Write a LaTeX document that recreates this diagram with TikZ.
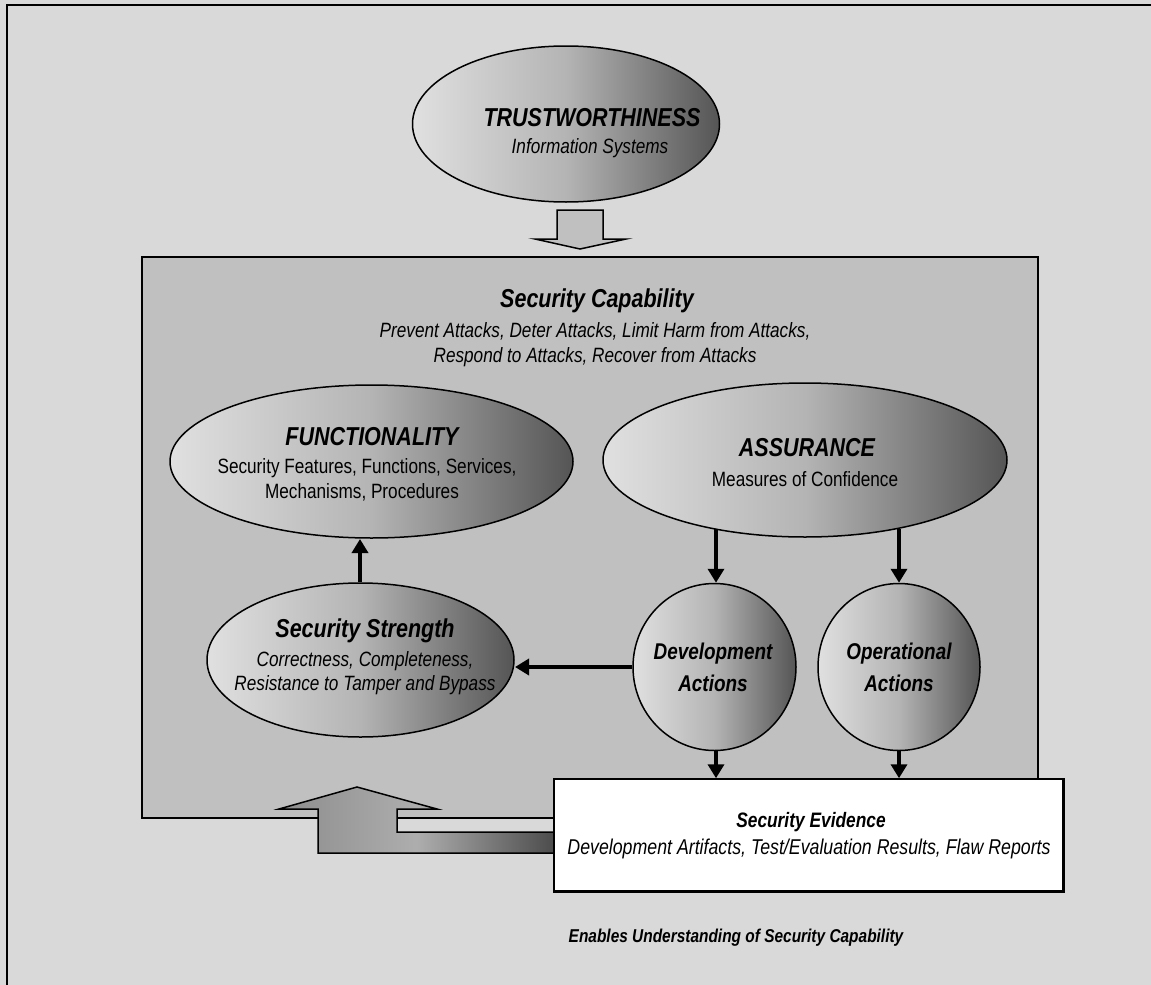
\documentclass[tikz,border=0pt]{standalone}
\usepackage{fontspec}
\setmainfont{Liberation Sans}[FakeStretch=0.83]
\usetikzlibrary{shapes.geometric,arrows.meta}
\definecolor{bg}{HTML}{D9D9D9}
\definecolor{capbox}{HTML}{C0C0C0}
\definecolor{glight}{HTML}{E0E0E0}
\definecolor{gmid}{HTML}{B4B4B4}
\definecolor{gdark}{HTML}{555555}
\definecolor{arrowfill}{HTML}{C0C0C0}
\begin{document}
\begin{tikzpicture}[x=1pt,y=-1pt,
  shadedell/.style={ellipse, draw=black, line width=1.5pt, left color=glight, right color=gdark, middle color=gmid, inner sep=0pt},
  ttl/.style={font=\fontsize{25.9}{30}\selectfont\bfseries\itshape, anchor=base, inner sep=0pt},
  midttl/.style={font=\fontsize{22.8}{26}\selectfont\bfseries\itshape, anchor=base, inner sep=0pt},
  sub/.style={font=\fontsize{20.7}{24}\selectfont\itshape, anchor=base, inner sep=0pt},
  reg/.style={font=\fontsize{20.7}{24}\selectfont, anchor=base, inner sep=0pt},
  thickarrow/.style={line width=4pt, -{Triangle[width=16pt,length=14pt]}},
]
\useasboundingbox (0,0) rectangle (1151,985);
% background and frame
\fill[bg] (0,0) rectangle (1151,985);
\draw[line width=2pt] (7,1000) -- (7,5) -- (1170,5);

% trustworthiness
\node[shadedell, minimum width=307pt, minimum height=156pt] (trust) at (566,124) {};
\node[ttl] (trustT) at (592,126) {TRUSTWORTHINESS};
\node[sub] (trustS) at (590,153) {Information Systems};

% down block arrow
\draw[fill=arrowfill, line width=1.5pt, line join=miter]
  (557,210) -- (603,210) -- (603,239) -- (626,239) -- (580,249) -- (535,239) -- (557,239) -- cycle;

% security capability box
\node[draw=black, line width=1.5pt, fill=capbox, minimum width=896pt, minimum height=561pt, inner sep=0pt] (cap) at (590,537.5) {};
\node[ttl] (capT) at (597,307) {Security Capability};
\node[sub] (capS1) at (595,337) {Prevent Attacks, Deter Attacks, Limit Harm from Attacks,};
\node[sub] (capS2) at (595,362) {Respond to Attacks, Recover from Attacks};

% functionality
\node[shadedell, minimum width=403pt, minimum height=153pt] (func) at (371.5,461.5) {};
\node[ttl] (funcT) at (372,445) {FUNCTIONALITY};
\node[reg] (funcS1) at (367,473) {Security Features, Functions, Services,};
\node[reg] (funcS2) at (362,498) {Mechanisms, Procedures};

% assurance
\node[shadedell, minimum width=404pt, minimum height=154pt] (assur) at (805,460) {};
\node[ttl] (assurT) at (807,456) {ASSURANCE};
\node[reg] (assurS) at (805,486) {Measures of Confidence};

% security strength
\node[shadedell, minimum width=307pt, minimum height=154pt] (strength) at (360.5,660) {};
\node[ttl] (strT) at (365,637) {Security Strength};
\node[sub] (strS1) at (365,666) {Correctness, Completeness,};
\node[sub] (strS2) at (365,690) {Resistance to Tamper and Bypass};

% development / operational
\node[shadedell, minimum width=163pt, minimum height=167pt] (dev) at (714.5,667) {};
\node[midttl] (devT1) at (713,659) {Development};
\node[midttl] (devT2) at (713,691) {Actions};
\node[shadedell, minimum width=162pt, minimum height=167pt] (op) at (899,667) {};
\node[midttl] (opT1) at (899,659) {Operational};
\node[midttl] (opT2) at (899,691) {Actions};

% evidence box
\node[draw=black, line width=1.5pt, fill=white, minimum width=509pt, minimum height=112pt, inner sep=0pt] (evid) at (808.5,835) {};
\node[midttl, font=\fontsize{20.9}{25}\selectfont\bfseries\itshape] (evT) at (811,827) {Security Evidence};
\node[sub, font=\fontsize{21.4}{25}\selectfont\itshape] (evS) at (809,854) {Development Artifacts, Test/Evaluation Results, Flaw Reports};

% thick arrows
\coordinate (a1) at (716,529);
\coordinate (a2) at (899,529);
\coordinate (a3) at (360,539);
\coordinate (s1) at (515,667);
\draw[thickarrow] (a1) -- (a1 |- dev.north);
\draw[thickarrow] (a2) -- (a2 |- op.north);
\draw[thickarrow] (a3 |- strength.north) -- (a3);
\draw[thickarrow] (dev.west) -- (s1);
\draw[thickarrow] (a1 |- dev.south) -- (a1 |- evid.north);
\draw[thickarrow] (op.south) -- (op.south |- evid.north);

% bent block arrow
\path[draw=black, line width=1.5pt, line join=miter, left color=black!45, right color=black!70, middle color=black!32]
  (357,787) -- (437,809) -- (397,809) -- (397,832) -- (554,832) -- (554,853) -- (318,853) -- (318,809) -- (279,809) -- cycle;
\draw[line width=1.5pt] (evid.north west) rectangle (evid.south east);

% bottom text
\node[midttl, font=\fontsize{18.6}{22}\selectfont\bfseries\itshape] (bottom) at (736,942) {Enables Understanding of Security Capability};
\end{tikzpicture}
\end{document}
